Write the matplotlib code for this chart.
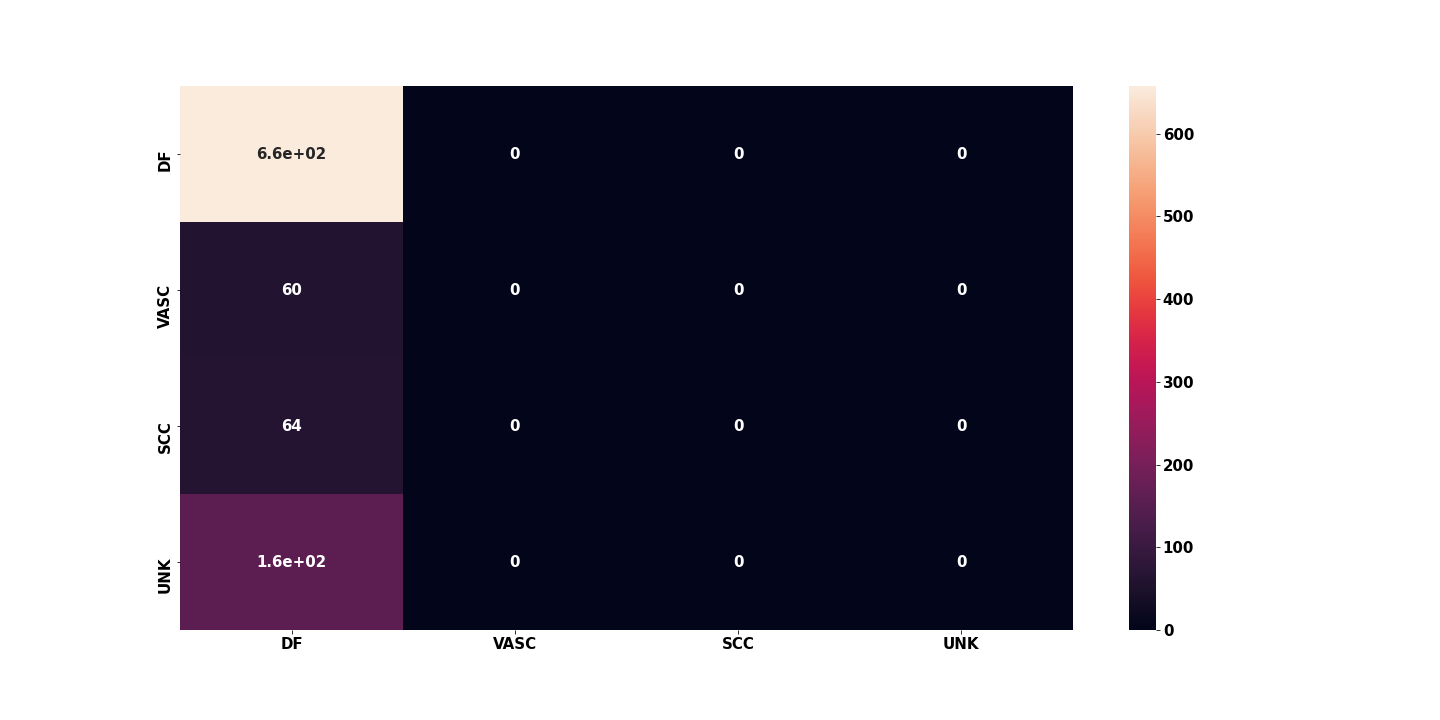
import numpy as np
import matplotlib
matplotlib.use("Agg")
import matplotlib.pyplot as plt
import seaborn as sns

labels = ["DF", "VASC", "SCC", "UNK"]
df_row = [657, 0, 0, 0]
vasc_row = [60, 0, 0, 0]
scc_row = [64, 0, 0, 0]
unk_row = [158, 0, 0, 0]

cm = np.array([df_row, vasc_row, scc_row, unk_row])

plt.rcParams["font.weight"] = "bold"
plt.rcParams["font.size"] = 15

fig, ax = plt.subplots(figsize=(20, 10), dpi=72)
sns.heatmap(cm, annot=True, xticklabels=labels, yticklabels=labels, ax=ax)
# older seaborn look: rotated y labels hanging below the tick
plt.setp(ax.get_yticklabels(), rotation=90, va="center_baseline")
fig.subplots_adjust(bottom=0.125)
fig.savefig("out.png")
